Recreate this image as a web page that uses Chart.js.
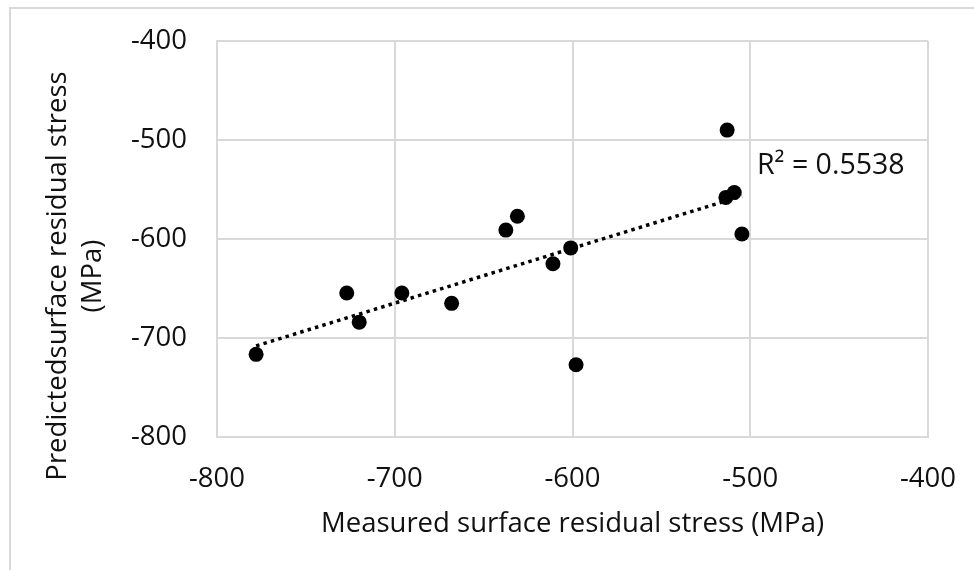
<!DOCTYPE html>
<html>
<head>
<meta charset="utf-8">
<script src="https://cdn.jsdelivr.net/npm/chart.js@4/dist/chart.umd.min.js"></script>
<style>
  html, body { margin: 0; padding: 0; background: #ffffff; }
  #wrap { width: 974px; height: 570px; position: relative; }
</style>
</head>
<body>
<div id="wrap"><canvas id="c" width="974" height="570"></canvas></div>
<script>
// Data
const measured  = [-778, -727, -720, -696, -668, -637.5, -631, -611, -601, -598, -513, -513.7, -509, -504.7];
const predicted = [-716.5, -654.5, -684, -654.5, -665, -591, -577, -625, -609, -727, -490, -558, -553, -595];
// Trendline endpoints (dotted linear fit)
const trendX = [-778, -504.7];
const trendY = [-708, -556.5];
const axisTicks = [-800, -700, -600, -500, -400];
const xTitle = 'Measured surface residual stress (MPa)';
const yTitle = ['Predictedsurface residual stress', '(MPa)'];
const r2Label = 'R² = 0.5538';

const FONT = '"Open Sans", "Noto Sans", sans-serif';
const TEXT = '#111111';
const GRID = '#d9d9d9';
const FS = 27.5;

const points = measured.map((x, i) => ({ x: x, y: predicted[i] }));
const trend = trendX.map((x, i) => ({ x: x, y: trendY[i] }));

const decor = {
  id: 'decor',
  beforeDraw(chart) {
    const ctx = chart.ctx;
    ctx.save();
    ctx.fillStyle = '#ffffff';
    ctx.fillRect(0, 0, chart.width, chart.height);
    ctx.strokeStyle = GRID;
    ctx.lineWidth = 2;
    ctx.beginPath();
    ctx.moveTo(10, chart.height);
    ctx.lineTo(10, 8);
    ctx.lineTo(chart.width, 8);
    ctx.stroke();
    ctx.restore();
  },
  afterDraw(chart) {
    const ctx = chart.ctx;
    ctx.save();
    ctx.fillStyle = TEXT;
    ctx.font = FS + 'px ' + FONT;
    ctx.textAlign = 'center';
    ctx.textBaseline = 'alphabetic';
    // Y axis title (two lines, rotated)
    const cy = 276;
    const bases = [66, 101];
    yTitle.forEach((line, i) => {
      ctx.save();
      ctx.translate(bases[i], cy);
      ctx.rotate(-Math.PI / 2);
      ctx.fillText(line, 0, 0);
      ctx.restore();
    });
    // R² label
    ctx.textAlign = 'left';
    ctx.font = '28.5px ' + FONT;
    ctx.fillText(r2Label, 757, 174);
    ctx.restore();
  }
};

new Chart(document.getElementById('c'), {
  type: 'scatter',
  data: {
    datasets: [
      {
        label: 'Data',
        data: points,
        backgroundColor: '#000000',
        borderColor: '#000000',
        pointRadius: 7.5,
        pointBorderWidth: 0,
        order: 1
      },
      {
        label: 'Trend',
        type: 'line',
        data: trend,
        borderColor: '#000000',
        borderWidth: 3.5,
        borderDash: [3.5, 4.2],
        borderCapStyle: 'butt',
        pointRadius: 0,
        fill: false,
        order: 2
      }
    ]
  },
  plugins: [decor],
  options: {
    responsive: false,
    animation: false,
    devicePixelRatio: 1,
    layout: { padding: { top: 41, right: 46, left: 0, bottom: 0 } },
    plugins: {
      legend: { display: false },
      tooltip: { enabled: false }
    },
    scales: {
      x: {
        type: 'linear',
        min: -800, max: -400,
        afterBuildTicks: s => { s.ticks = axisTicks.map(v => ({ value: v })); },
        afterFit: s => { s.height = 133; s.paddingLeft = 0; s.paddingRight = 0; },
        grid: { color: GRID, lineWidth: 2, drawTicks: false },
        border: { color: GRID, width: 2 },
        ticks: { color: TEXT, font: { family: FONT, size: FS }, padding: 26, maxRotation: 0 },
        title: { display: true, text: xTitle, color: TEXT, font: { family: FONT, size: FS }, padding: { top: 0, bottom: 29 } }
      },
      y: {
        type: 'linear',
        min: -800, max: -400,
        afterBuildTicks: s => { s.ticks = axisTicks.map(v => ({ value: v })); },
        afterFit: s => { s.width = 217; s.paddingTop = 0; s.paddingBottom = 0; },
        grid: { color: GRID, lineWidth: 2, drawTicks: false },
        border: { color: GRID, width: 2 },
        ticks: { color: TEXT, font: { family: FONT, size: FS }, padding: 30 },
        title: { display: false }
      }
    }
  }
});
</script>
</body>
</html>
